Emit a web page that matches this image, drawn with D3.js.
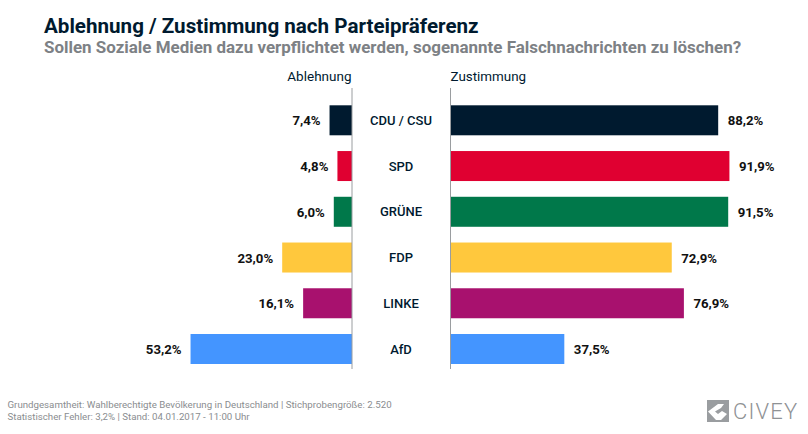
<!DOCTYPE html>
<html>
<head>
<meta charset="utf-8">
<script src="https://cdn.jsdelivr.net/npm/d3@7"></script>
<style>
  html, body { margin: 0; padding: 0; background: #fff; }
  text { font-family: Roboto, sans-serif; }
</style>
</head>
<body>
<div id="chart"></div>
<script>
const parties = ['CDU / CSU', 'SPD', 'GRÜNE', 'FDP', 'LINKE', 'AfD'];
const ablehnung = [7.4, 4.8, 6.0, 23.0, 16.1, 53.2];
const zustimmung = [88.2, 91.9, 91.5, 72.9, 76.9, 37.5];
const partyColors = ['#001a2f', '#e00031', '#00784a', '#ffc83d', '#a8116e', '#4495ff'];

const width = 808, height = 434;
const fmt = v => v.toFixed(1).replace('.', ',') + '%';

const svg = d3.select('#chart').append('svg')
  .attr('width', width)
  .attr('height', height)
  .style('display', 'block');

// rows are 45.75 px apart, bars 30 px high
const y = d3.scaleBand()
  .domain(parties)
  .range([105.3, 364])
  .paddingInner(15.75 / 45.75);

// 3.035 px per percentage point on both sides
const xLeft = d3.scaleLinear().domain([0, 100]).range([352, 352 - 303.5]);
const xRight = d3.scaleLinear().domain([0, 100]).range([450.5, 450.5 + 303.5]);

// titles
svg.append('text').attr('x', 44).attr('y', 33)
  .attr('font-size', 20.6).attr('font-weight', 700).attr('fill', '#001a2f')
  .text('Ablehnung / Zustimmung nach Parteipräferenz');
svg.append('text').attr('x', 44).attr('y', 53)
  .attr('font-size', 16.95).attr('font-weight', 700).attr('fill', '#7d8185')
  .text('Sollen Soziale Medien dazu verpflichtet werden, sogenannte Falschnachrichten zu löschen?');

svg.append('text').attr('x', 351.5).attr('y', 81).attr('text-anchor', 'end')
  .attr('font-size', 13.5).attr('fill', '#001a2f').text('Ablehnung');
svg.append('text').attr('x', 450.5).attr('y', 81)
  .attr('font-size', 13.4).attr('fill', '#001a2f').text('Zustimmung');

// bars
svg.selectAll('rect.left').data(parties).join('rect')
  .attr('class', 'left')
  .attr('x', (d, i) => xLeft(ablehnung[i]))
  .attr('y', d => y(d))
  .attr('width', (d, i) => xLeft(0) - xLeft(ablehnung[i]))
  .attr('height', y.bandwidth())
  .attr('fill', (d, i) => partyColors[i]);

svg.selectAll('rect.right').data(parties).join('rect')
  .attr('class', 'right')
  .attr('x', xRight(0))
  .attr('y', d => y(d))
  .attr('width', (d, i) => xRight(zustimmung[i]) - xRight(0))
  .attr('height', y.bandwidth())
  .attr('fill', (d, i) => partyColors[i]);

// baselines
[xLeft(0), xRight(0)].forEach(x => {
  svg.append('line')
    .attr('x1', x).attr('x2', x).attr('y1', 88).attr('y2', 369)
    .attr('stroke', '#9a9da0').attr('stroke-width', 1);
});

// value labels
svg.selectAll('text.left').data(parties).join('text')
  .attr('class', 'left')
  .attr('x', (d, i) => xLeft(ablehnung[i]) - 9)
  .attr('y', d => y(d) + 20)
  .attr('text-anchor', 'end')
  .attr('font-size', 13.2).attr('font-weight', 700).attr('fill', '#111')
  .text((d, i) => fmt(ablehnung[i]));

svg.selectAll('text.right').data(parties).join('text')
  .attr('class', 'right')
  .attr('x', (d, i) => xRight(zustimmung[i]) + 9.5)
  .attr('y', d => y(d) + 20)
  .attr('font-size', 13.2).attr('font-weight', 700).attr('fill', '#111')
  .text((d, i) => fmt(zustimmung[i]));

svg.selectAll('text.party').data(parties).join('text')
  .attr('class', 'party')
  .attr('x', 401)
  .attr('y', d => y(d) + 19.5)
  .attr('text-anchor', 'middle')
  .attr('font-size', 13).attr('font-weight', 500).attr('fill', '#001a2f')
  .text(d => d);

// footer
svg.append('text').attr('x', 7.5).attr('y', 408)
  .attr('font-size', 9.7).attr('fill', '#8a8d90')
  .text('Grundgesamtheit: Wahlberechtigte Bevölkerung in Deutschland | Stichprobengröße: 2.520');
svg.append('text').attr('x', 7.5).attr('y', 420)
  .attr('font-size', 9.7).attr('fill', '#8a8d90')
  .text('Statistischer Fehler: 3,2% | Stand: 04.01.2017 - 11:00 Uhr');

// logo
const logo = svg.append('g').attr('transform', 'translate(707,400)');
logo.append('rect').attr('width', 22).attr('height', 22).attr('fill', '#9a9da0');
logo.append('path')
  .attr('d', 'M17 4 L11 4 L1 11.5 L9 20 L14 20 L20 14 L15 11 L11 14 L8 11.5 L14 8 Z')
  .attr('fill', '#fff');
svg.append('text').attr('x', 733).attr('y', 419)
  .attr('font-size', 22).attr('font-weight', 300).attr('letter-spacing', 1.2).attr('fill', '#8f9295')
  .text('CIVEY');
</script>
</body>
</html>
